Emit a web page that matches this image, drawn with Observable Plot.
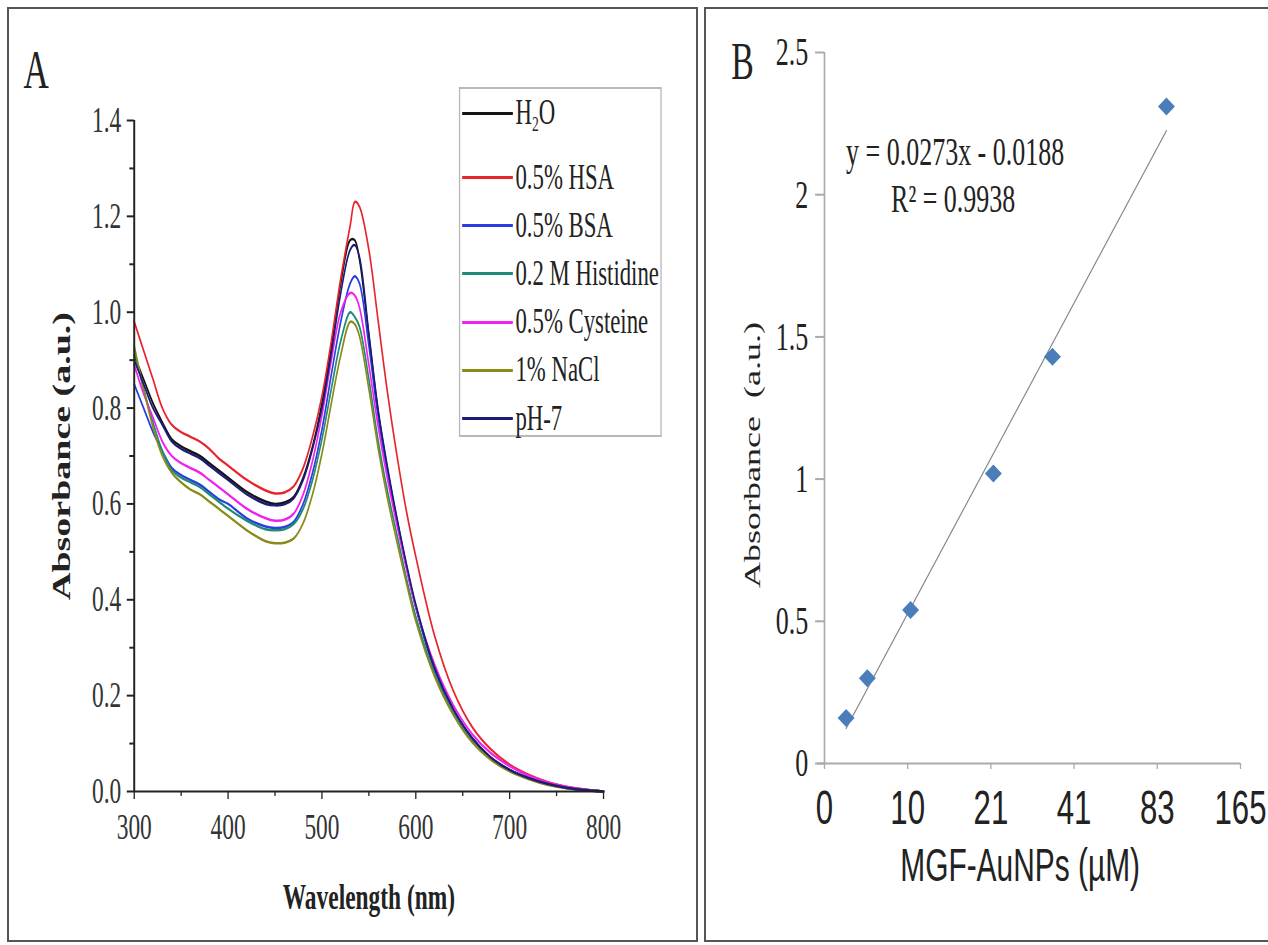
<!DOCTYPE html>
<html><head><meta charset="utf-8">
<script src="https://cdn.jsdelivr.net/npm/d3@7"></script>
<script src="https://cdn.jsdelivr.net/npm/@observablehq/plot@0.6"></script>
<style>
html,body{margin:0;padding:0;background:#fff;}
body{width:1268px;height:945px;position:relative;overflow:hidden;}
.sq{position:absolute;top:0;height:945px;transform:scaleX(0.65);transform-origin:0 0;}
.frame{position:absolute;box-sizing:border-box;border:2px solid #555;}
</style></head><body>
<div id="panelA" class="sq" style="left:0;width:1077px"></div>
<div id="panelB" class="sq" style="left:700px;width:874px"></div>
<div class="frame" style="left:7px;top:7px;width:691px;height:935px"></div>
<div class="frame" style="left:704px;top:7px;width:600px;height:935px"></div>
<script>
// ---------- Panel A data ----------
const wavelengths = [300,310,320,330,340,350,360,370,380,390,400,420,440,450,460,470,480,490,500,510,520,530,535,540,550,560,570,580,590,600,620,640,660,680,700,720,740,760,780,800];
const seriesNames = ["H2O","0.5% HSA","0.5% BSA","0.2 M Histidine","0.5% Cysteine","1% NaCl","pH-7"];
const seriesColors = ["#141414","#e8242c","#2b3ce0","#1f8a7a","#f020f0","#8a8a18","#1c1c78"];
const h2o = [0.91,0.86,0.81,0.77,0.735,0.72,0.71,0.70,0.685,0.67,0.655,0.625,0.605,0.60,0.603,0.615,0.655,0.72,0.81,0.93,1.06,1.15,1.15,1.11,0.95,0.79,0.67,0.565,0.47,0.385,0.255,0.17,0.11,0.07,0.045,0.028,0.016,0.008,0.003,0];
const hsa = [0.98,0.92,0.86,0.80,0.765,0.75,0.74,0.73,0.715,0.695,0.68,0.65,0.628,0.622,0.624,0.637,0.675,0.74,0.825,0.94,1.07,1.18,1.23,1.22,1.13,0.98,0.83,0.70,0.585,0.49,0.325,0.21,0.135,0.088,0.056,0.035,0.02,0.01,0.004,0];
const bsa = [0.85,0.80,0.75,0.71,0.675,0.66,0.65,0.64,0.625,0.61,0.60,0.57,0.553,0.55,0.552,0.563,0.60,0.665,0.755,0.87,0.98,1.06,1.075,1.06,0.93,0.78,0.665,0.565,0.47,0.385,0.255,0.17,0.11,0.07,0.045,0.028,0.016,0.008,0.003,0];
const histidine = [0.92,0.84,0.77,0.71,0.67,0.655,0.645,0.635,0.62,0.605,0.59,0.565,0.547,0.545,0.547,0.558,0.59,0.65,0.735,0.84,0.94,1.00,0.99,0.97,0.86,0.73,0.625,0.535,0.445,0.365,0.245,0.163,0.105,0.068,0.043,0.027,0.015,0.008,0.003,0];
const cysteine = [0.89,0.83,0.78,0.73,0.70,0.685,0.675,0.665,0.65,0.635,0.62,0.59,0.57,0.565,0.567,0.58,0.62,0.69,0.785,0.90,1.00,1.04,1.035,1.01,0.89,0.76,0.65,0.555,0.465,0.385,0.265,0.18,0.12,0.08,0.053,0.033,0.019,0.01,0.004,0];
const nacl = [0.93,0.84,0.76,0.70,0.665,0.645,0.63,0.62,0.605,0.59,0.575,0.545,0.522,0.518,0.519,0.528,0.56,0.62,0.705,0.81,0.91,0.98,0.975,0.95,0.84,0.715,0.61,0.52,0.435,0.355,0.24,0.16,0.103,0.066,0.042,0.026,0.014,0.007,0.003,0];
const ph7 = [0.90,0.85,0.80,0.765,0.73,0.715,0.705,0.695,0.68,0.665,0.65,0.62,0.60,0.597,0.599,0.612,0.65,0.715,0.80,0.915,1.04,1.13,1.14,1.115,0.955,0.795,0.675,0.57,0.475,0.39,0.258,0.172,0.112,0.071,0.045,0.028,0.016,0.008,0.003,0];
const xTicksA = [300,400,500,600,700,800];
const xMinorA = [350,450,550,650,750];
const yTicksA = [0,0.2,0.4,0.6,0.8,1.0,1.2,1.4];
const yMinorA = [0.1,0.3,0.5,0.7,0.9,1.1,1.3];

// ---------- Panel B data ----------
const concentrations = [5.2,10.3,20.7,40.6,54.8,82.2];
const absorbances = [0.16,0.30,0.54,1.02,1.43,2.31];
const xTickValuesB = [0,20,40,60,80,100];
const xTickLabelsB = ["0","10","21","41","83","165"];
const yTicksB = [0,0.5,1,1.5,2,2.5];
const trendSlope = 0.0273, trendIntercept = -0.0188;

const serif = '"Liberation Serif","Times New Roman",serif';
const sans = '"Liberation Sans",Arial,sans-serif';

const seriesValues = [h2o,hsa,bsa,histidine,cysteine,nacl,ph7];
const spectra = seriesNames.flatMap((name,i)=>wavelengths.map((wl,j)=>({series:name, wl, abs:seriesValues[i][j]})));

const plotA = Plot.plot({
  width:1077, height:945,
  marginLeft:206, marginRight:149, marginTop:120, marginBottom:154,
  style:{fontFamily:serif, fontSize:"36px", color:"#333", background:"transparent", overflow:"visible"},
  x:{domain:[300,800]},
  y:{domain:[0,1.4]},
  color:{domain:seriesNames, range:seriesColors},
  marks:[
    Plot.line(spectra,{x:"wl",y:"abs",stroke:"series",z:"series",curve:"catmull-rom",strokeWidth:2.5}),
    Plot.ruleX([300],{stroke:"#222",strokeWidth:3}),
    Plot.ruleY([0],{stroke:"#222",strokeWidth:2}),
    Plot.axisX({ticks:xTicksA,tickSize:8,tickPadding:14,tickFormat:d=>String(d),label:null,stroke:"#222",strokeWidth:2,fill:"#333",fontSize:36}),
    Plot.axisX({ticks:xMinorA,tickSize:5,tickFormat:()=>"",label:null,stroke:"#222",strokeWidth:2}),
    Plot.axisY({ticks:yTicksA,tickSize:11,tickPadding:9,tickFormat:d3.format(".1f"),label:null,stroke:"#222",strokeWidth:2,fill:"#333",fontSize:36}),
    Plot.axisY({ticks:yMinorA,tickSize:7,tickFormat:()=>"",label:null,stroke:"#222",strokeWidth:2}),
    Plot.text(["Wavelength (nm)"],{text:d=>d,frameAnchor:"bottom",dy:106,lineAnchor:"middle",textAnchor:"middle",fontWeight:"bold",fontSize:36,fill:"#222"}),
    Plot.text(["Absorbance (a.u.)"],{text:d=>d,frameAnchor:"left",rotate:-90,dx:-111,lineAnchor:"middle",textAnchor:"middle",fontWeight:"bold",fontSize:38,fill:"#222"}),
    Plot.text(["A"],{text:d=>d,frameAnchor:"top-left",dx:-151,dy:-50,lineAnchor:"middle",textAnchor:"middle",fontSize:54,fill:"#222"})
  ]
});
const panelA = document.getElementById("panelA");
plotA.style.position="absolute"; plotA.style.left="0"; plotA.style.top="0";
panelA.appendChild(plotA);

// legend (HTML, inside the squeezed panel)
const legend = document.createElement("div");
legend.style.cssText = "position:absolute;left:706px;top:87px;width:312px;height:350px;border:2px solid #b8b8b8;box-sizing:border-box;background:transparent;";
seriesNames.forEach((name,i)=>{
  const cy = i===0 ? 111 : 175.5 + (i-1)*48.2;
  const row = document.createElement("div");
  row.style.cssText = `position:absolute;left:3px;top:${cy-87-22}px;height:44px;display:flex;align-items:center;white-space:nowrap;`;
  const sw = document.createElement("div");
  sw.style.cssText = `width:78px;height:3px;background:${seriesColors[i]};`;
  const lab = document.createElement("span");
  lab.style.cssText = `font-family:${serif};font-size:35px;color:#222;margin-left:4px;line-height:44px;`;
  if (name==="H2O") lab.innerHTML = 'H<sub style="font-size:60%;vertical-align:-0.35em;line-height:0">2</sub>O';
  else lab.textContent = name;
  row.appendChild(sw); row.appendChild(lab);
  legend.appendChild(row);
});
panelA.appendChild(legend);

// ---------- Panel B ----------
const points = concentrations.map((c,i)=>({c, a:absorbances[i]}));
const xFirst = concentrations[0], xLast = concentrations[concentrations.length-1];
const trend = [xFirst,xLast].map(c=>({c, a:trendSlope*c+trendIntercept}));
const wideDiamond = {draw(ctx,size){const r=Math.sqrt(size/Math.PI);const w=r*1.45,h=r;ctx.moveTo(0,-h);ctx.lineTo(w,0);ctx.lineTo(0,h);ctx.lineTo(-w,0);ctx.closePath();}};

const plotB = Plot.plot({
  width:874, height:945,
  marginLeft:191, marginRight:43, marginTop:52, marginBottom:182,
  style:{fontFamily:serif, fontSize:"40px", color:"#222", background:"transparent", overflow:"visible"},
  x:{domain:[0,100]},
  y:{domain:[0,2.5]},
  marks:[
    Plot.ruleX([0],{stroke:"#aaa",strokeWidth:2.5}),
    Plot.ruleY([0],{stroke:"#aaa",strokeWidth:2,insetLeft:-11}),
    Plot.axisY({ticks:yTicksB,tickSize:14,tickPadding:11,tickFormat:d=>String(d),label:null,stroke:"#aaa",strokeWidth:2,fill:"#222",fontSize:40}),
    Plot.axisX({ticks:xTickValuesB,tickSize:6,tickPadding:20,tickFormat:d=>xTickLabelsB[xTickValuesB.indexOf(d)],label:null,stroke:"#aaa",strokeWidth:2,fill:"#222",fontSize:48,fontFamily:sans}),
    Plot.line(trend,{x:"c",y:"a",stroke:"#888",strokeWidth:1.6}),
    Plot.dot(points,{x:"c",y:"a",symbol:wideDiamond,r:9,fill:"#4a7ebb",stroke:"none"}),
    Plot.text(["Absorbance  (a.u.)"],{text:d=>d,frameAnchor:"left",rotate:-90,dx:-111,dy:47,lineAnchor:"middle",textAnchor:"middle",fontSize:36,fill:"#222"}),
    Plot.text(["MGF-AuNPs (µM)"],{text:d=>d,frameAnchor:"bottom",dx:-19,dy:103,lineAnchor:"middle",textAnchor:"middle",fontSize:46,fontFamily:sans,fill:"#222"}),
    Plot.text(["B"],{text:d=>d,frameAnchor:"top-left",dx:-126,dy:10,lineAnchor:"middle",textAnchor:"middle",fontSize:52,fill:"#222"}),
    Plot.text(["y = 0.0273x - 0.0188"],{text:d=>d,frameAnchor:"top-left",dx:201,dy:100,lineAnchor:"middle",textAnchor:"middle",fontSize:40,fill:"#222"}),
    Plot.text(["R² = 0.9938"],{text:d=>d,frameAnchor:"top-left",dx:198,dy:147,lineAnchor:"middle",textAnchor:"middle",fontSize:40,fill:"#222"})
  ]
});
const panelB = document.getElementById("panelB");
plotB.style.position="absolute"; plotB.style.left="0"; plotB.style.top="0";
panelB.appendChild(plotB);
</script>
</body></html>
